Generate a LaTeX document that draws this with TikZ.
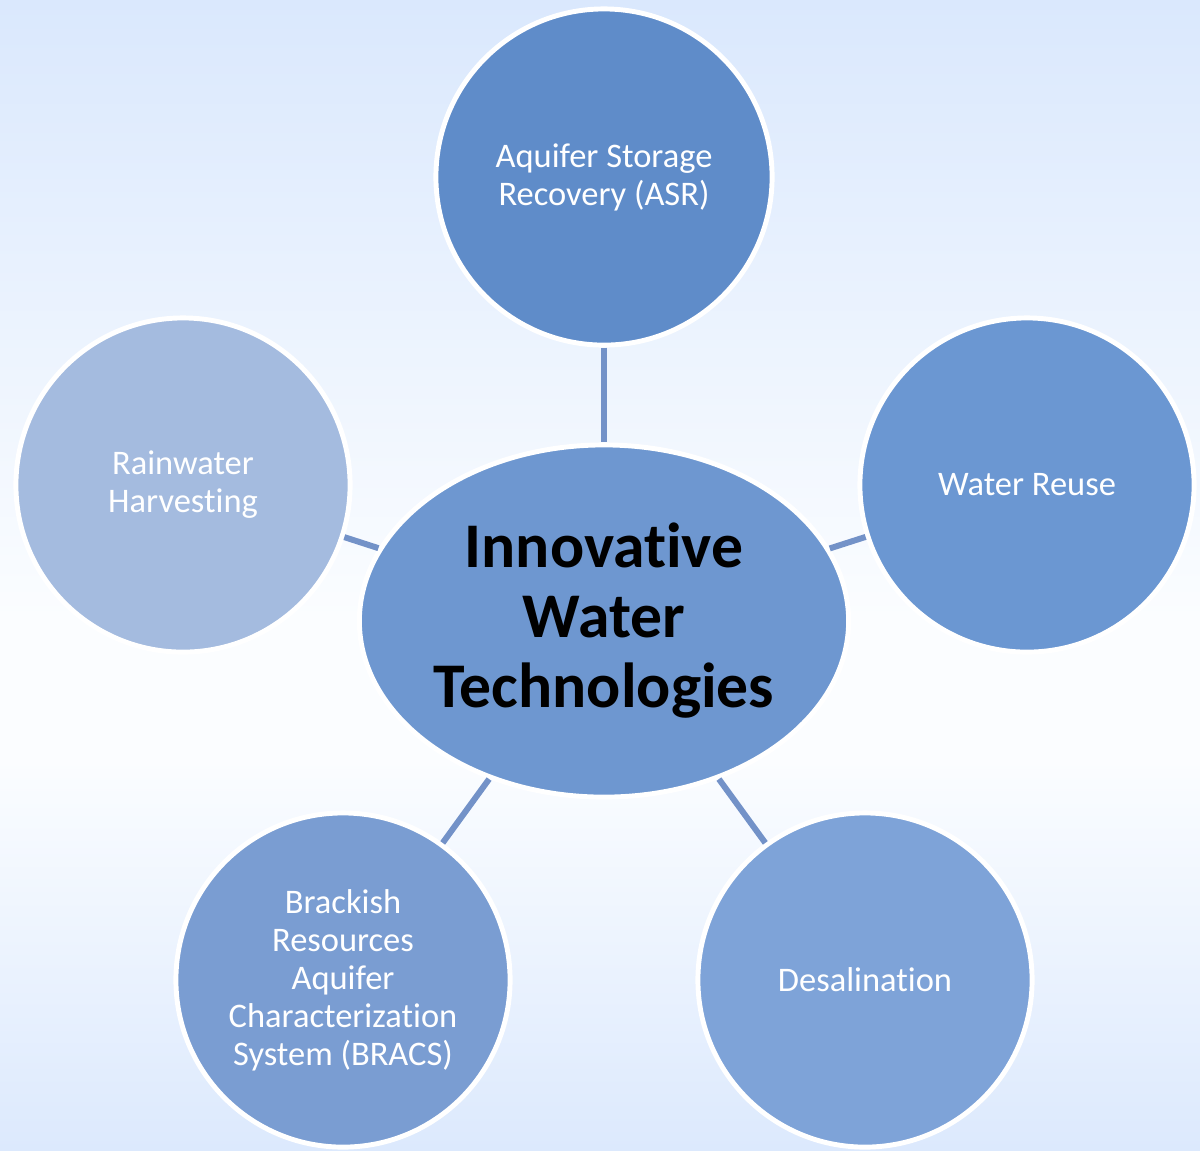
\documentclass[tikz,border=0pt]{standalone}
\usepackage{fontspec}
\setmainfont{Carlito}[Ligatures=NoCommon]
\usetikzlibrary{shapes.geometric}

\definecolor{bgtop}{HTML}{DAE8FD}
\definecolor{bgmid}{HTML}{FBFDFF}
\definecolor{bgbot}{HTML}{DCE9FD}
\definecolor{linkblue}{HTML}{7392C8}
\definecolor{asrblue}{HTML}{5F8CC9}
\definecolor{rainblue}{HTML}{A4BBDF}
\definecolor{reuseblue}{HTML}{6B97D2}
\definecolor{bracsblue}{HTML}{7A9DD2}
\definecolor{desalblue}{HTML}{7EA3D8}
\definecolor{hubblue}{HTML}{6E97D0}

\tikzset{
    tech/.style={circle, draw=white, line width=1.4pt, minimum size=3.34cm,
        inner sep=0pt, align=center, text=white,
        font=\fontsize{9.8}{10.8}\selectfont},
    hub/.style={ellipse, draw=white, line width=1.4pt, fill=hubblue,
        minimum width=4.89cm, minimum height=3.52cm, inner sep=0pt,
        align=center, text=black, font=\fontsize{18.1}{19.9}\selectfont\bfseries},
    link/.style={draw=linkblue, line width=1.7pt}
}

\begin{document}
\begin{tikzpicture}[x=0.01cm, y=-0.01cm]
    % Background
    \useasboundingbox (0,0) rectangle (1200,1150);
    \shade[top color=bgtop, bottom color=bgmid] (0,0) rectangle (1200,620);
    \fill[bgmid] (0,619) rectangle (1200,760);
    \shade[top color=bgmid, bottom color=bgbot] (0,759) rectangle (1200,1150);

    % Centre
    \node[hub] (hub) at (604,621) {Innovative\\Water\\Technologies};

    % Technologies round the centre
    \node[tech, fill=asrblue, minimum size=3.36cm] (asr) at (604,177) {Aquifer Storage\\Recovery (ASR)};
    \node[tech, fill=rainblue] (rain) at (183,485) {Rainwater\\Harvesting};
    \node[tech, fill=reuseblue] (reuse) at (1027,485) {Water Reuse};
    \node[tech, fill=bracsblue] (bracs) at (343,980) {Brackish\\Resources\\Aquifer\\Characterization\\System (BRACS)};
    \node[tech, fill=desalblue] (desal) at (865,980) {Desalination};

    % Links
    \foreach \t in {asr, rain, reuse, bracs, desal}
        \draw[link] (\t) -- (hub);

\end{tikzpicture}
\end{document}
